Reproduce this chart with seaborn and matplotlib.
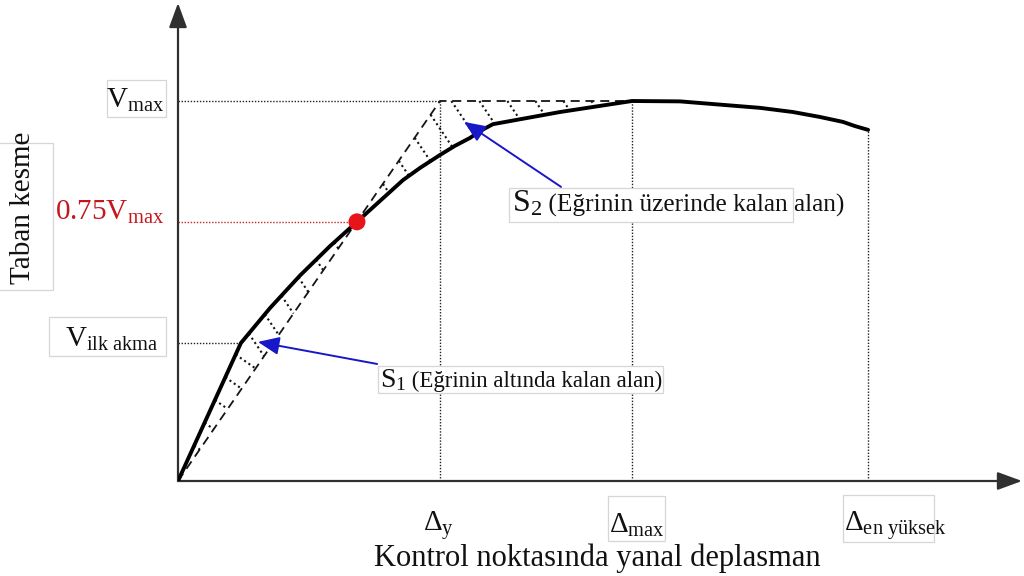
import numpy as np
import matplotlib
matplotlib.use("Agg")
import matplotlib.pyplot as plt
from matplotlib.patches import Rectangle
import seaborn as sns

# Capacity (pushover) curve: normalised roof displacement vs. base shear
disp = [0.0, 0.240, 0.351, 0.466, 0.580, 0.683, 0.771, 0.859, 0.924, 1.0,
        1.057, 1.115, 1.153, 1.202, 1.458, 1.733, 1.916, 2.095, 2.221, 2.347,
        2.450, 2.538, 2.584, 2.634]
shear = [0.0, 0.363, 0.455, 0.541, 0.618, 0.682, 0.737, 0.792, 0.824, 0.858,
         0.882, 0.903, 0.921, 0.939, 0.971, 1.0, 0.999, 0.989, 0.982, 0.971,
         0.958, 0.945, 0.934, 0.924]

# Idealised bilinear curve
bilin_disp = [0.0, 1.0, 1.733]
bilin_shear = [0.0, 1.0, 1.0]

# Characteristic points
d_ilk, v_ilk = 0.240, 0.363      # first yield
d_075, v_075 = 0.683, 0.682      # 0.75 Vmax point
d_y, d_max, d_ult = 1.0, 1.733, 2.634
v_max, v_ult = 1.0, 0.924

y_tick_labels = [r"V$_{\mathrm{max}}$", r"0.75V$_{\mathrm{max}}$", r"V$_{\mathrm{ilk\ akma}}$"]
x_tick_labels = [r"Δ$_{\mathrm{y}}$", r"Δ$_{\mathrm{max}}$", r"Δ$_{\mathrm{en\ yüksek}}$"]
x_title = "Kontrol noktasında yanal deplasman"
y_title = "Taban kesme"
s1_text = ("S$_{1}$", " (Eğrinin altında kalan alan)")
s2_text = ("S$_{2}$", " (Eğrinin üzerinde kalan alan)")

sns.set_theme(style="white")
plt.rcParams["font.family"] = ["Liberation Serif", "DejaVu Serif"]
plt.rcParams["mathtext.fontset"] = "custom"
plt.rcParams["mathtext.rm"] = "Liberation Serif"
plt.rcParams["mathtext.it"] = "Liberation Serif:italic"

W, H = 1024, 576
fig = plt.figure(figsize=(W / 100, H / 100), dpi=100)
fig.patch.set_facecolor("white")
ox, oy, xe, ye = 178, 481, 1022, 3
sx, sy = 262.0, 380.0
ax = fig.add_axes([ox / W, 1 - oy / H, (xe - ox) / W, (oy - ye) / H])
ax.set_xlim(0, (xe - ox) / sx)
ax.set_ylim(0, (oy - ye) / sy)
ax.set_axis_off()

def fbox(x0, y0, x1, y1):
    """Label frame given in figure pixels (top-left origin)."""
    ax.add_patch(Rectangle((x0 / W, 1 - y1 / H), (x1 - x0) / W, (y1 - y0) / H,
                           transform=fig.transFigure, clip_on=False,
                           facecolor="white", edgecolor="#d6d6d6", lw=0.9, zorder=5))

# axes with arrow heads
arrow_kw = dict(arrowstyle="-|>,head_length=1.5,head_width=0.55", mutation_scale=10,
                lw=1.6, color="#303030", shrinkA=0, shrinkB=0)
ax.annotate("", xy=(1, 0), xytext=(0, 0), xycoords="axes fraction", arrowprops=arrow_kw, zorder=4)
ax.annotate("", xy=(0, 1), xytext=(0, 0), xycoords="axes fraction", arrowprops=arrow_kw, zorder=4)

# reference lines
fine = dict(lw=1.0, ls=(0, (1, 1.2)), color="#202020", zorder=2)
ax.plot([0, d_y], [v_max, v_max], **fine)
ax.plot([0, d_ilk], [v_ilk, v_ilk], **fine)
ax.plot([d_y, d_y], [0, v_max], **fine)
ax.plot([d_max, d_max], [0, v_max], **fine)
ax.plot([d_ult, d_ult], [0, v_ult], **fine)
ax.plot([0, d_075], [v_075, v_075], lw=1.0, ls=(0, (1, 1.2)), color="#c0282a", zorder=2)

# hatching of the areas S1 and S2
disp_a, shear_a = np.array(disp), np.array(shear)
curve_px = ax.transData.transform(np.column_stack([disp_a, shear_a]))
bilin_px = ax.transData.transform(np.column_stack([bilin_disp, bilin_shear]))
p075 = ax.transData.transform([[d_075, v_075]])[0]
pilk = ax.transData.transform([[d_ilk, v_ilk]])[0]
inv = ax.transData.inverted()

def ray_hit(p, d, poly):
    best = None
    for a, b in zip(poly[:-1], poly[1:]):
        e = b - a
        M = np.array([[d[0], -e[0]], [d[1], -e[1]]])
        if abs(np.linalg.det(M)) < 1e-9:
            continue
        t, u = np.linalg.solve(M, a - p)
        if t > 1e-6 and -1e-9 <= u <= 1 + 1e-9 and (best is None or t < best):
            best = t
    return None if best is None else p + best * d

def along(poly, start, step):
    seg = np.diff(poly, axis=0)
    cum = np.concatenate([[0], np.cumsum(np.hypot(seg[:, 0], seg[:, 1]))])
    s = np.arange(start, cum[-1], step)
    return np.column_stack([np.interp(s, cum, poly[:, 0]), np.interp(s, cum, poly[:, 1])])

def direction(deg):
    r = np.deg2rad(deg)
    return np.array([np.cos(r), -np.sin(r)])

hatch = dict(lw=1.5, ls=(0, (1, 1.5)), color="#151515", zorder=2)
n1 = int(np.searchsorted(disp_a, d_075)) + 1
upper1 = curve_px[:n1]
for p in along(upper1, 14, 25):
    ang = 35 if p[1] < pilk[1] else 56
    q = ray_hit(p, direction(ang), bilin_px)
    if q is not None and np.hypot(*(q - p)) > 5:
        seg = inv.transform(np.vstack([p, q]))
        ax.plot(seg[:, 0], seg[:, 1], **hatch)

upper2 = np.vstack([p075, bilin_px[1:]])
lower2 = curve_px[n1 - 1:]
for p in along(upper2, 18, 28):
    q = ray_hit(p, direction(56), lower2)
    if q is not None and np.hypot(*(q - p)) > 6:
        seg = inv.transform(np.vstack([p, q]))
        ax.plot(seg[:, 0], seg[:, 1], **hatch)

# bilinear idealisation and capacity curve
sns.lineplot(x=bilin_disp, y=bilin_shear, ax=ax, color="#151515", lw=1.3,
             linestyle=(0, (5, 3.2)), zorder=3, estimator=None, sort=False)
sns.lineplot(x=disp, y=shear, ax=ax, color="black", lw=2.8, zorder=4,
             estimator=None, sort=False)
sns.scatterplot(x=[d_075], y=[v_075], ax=ax, color="#e8141c", s=150,
                edgecolor="none", zorder=6)

# blue pointers
blue = "#1818c8"
ptr = dict(arrowstyle="-|>,head_length=1.3,head_width=0.55", mutation_scale=10,
           lw=1.4, color=blue, shrinkA=0, shrinkB=0)
ax.annotate("", xy=(0.305, 0.366), xytext=(0.760, 0.308), arrowprops=ptr, zorder=7)
ax.annotate("", xy=(1.092, 0.945), xytext=(1.462, 0.774), arrowprops=ptr, zorder=7)

# label frames
fbox(107, 80, 166, 117)
fbox(-2, 143, 53, 290)
fbox(49, 317, 166, 356)
fbox(608, 496, 665, 541)
fbox(843, 495, 934, 542)
fbox(509, 188, 793, 222)
fbox(378, 366, 663, 393)

# y tick labels
ylab_kw = dict(xycoords=("axes fraction", "data"), textcoords="offset pixels",
               ha="right", va="baseline", fontsize=21, zorder=8)
ax.annotate(y_tick_labels[0], xy=(0, v_max), xytext=(-14, -7), color="#111111", **ylab_kw)
ax.annotate(y_tick_labels[1], xy=(0, v_075), xytext=(-14, 2), color="#c4161c", **ylab_kw)
ax.annotate(y_tick_labels[2], xy=(0, v_ilk), xytext=(-19, -4), color="#111111", **ylab_kw)

# x tick labels
xlab_kw = dict(xycoords=("data", "axes fraction"), textcoords="offset pixels",
               ha="left", va="baseline", fontsize=21, color="#111111", zorder=8)
ax.annotate(x_tick_labels[0], xy=(d_y, 0), xytext=(-17, -50), **xlab_kw)
ax.annotate(x_tick_labels[1], xy=(d_max, 0), xytext=(-23, -52), **xlab_kw)
ax.annotate(x_tick_labels[2], xy=(d_ult, 0), xytext=(-24, -50), **xlab_kw)

# axis titles
fig.text(597 / W, 1 - 566 / H, x_title, ha="center", va="baseline",
         fontsize=22, color="#111111")
fig.text(23 / W, 1 - 208 / H, y_title, ha="center", va="center", rotation=90,
         fontsize=21, color="#111111", zorder=8)

# area annotations: larger S symbol followed by the description
fig.canvas.draw()
renderer = fig.canvas.get_renderer()
for (sym, rest), (px, base), s_big, s_small in [
        (s1_text, (380, 387), 20, 16.5), (s2_text, (512, 212), 23, 18.3)]:
    t1 = ax.annotate(sym, xy=(px, H - base), xycoords="figure pixels",
                     ha="left", va="baseline", fontsize=s_big, color="#111111", zorder=8)
    bb = t1.get_window_extent(renderer)
    ax.annotate(rest, xy=(bb.x1, H - base), xycoords="figure pixels",
                ha="left", va="baseline", fontsize=s_small, color="#111111", zorder=8)

fig.savefig("out.png", dpi=100)
